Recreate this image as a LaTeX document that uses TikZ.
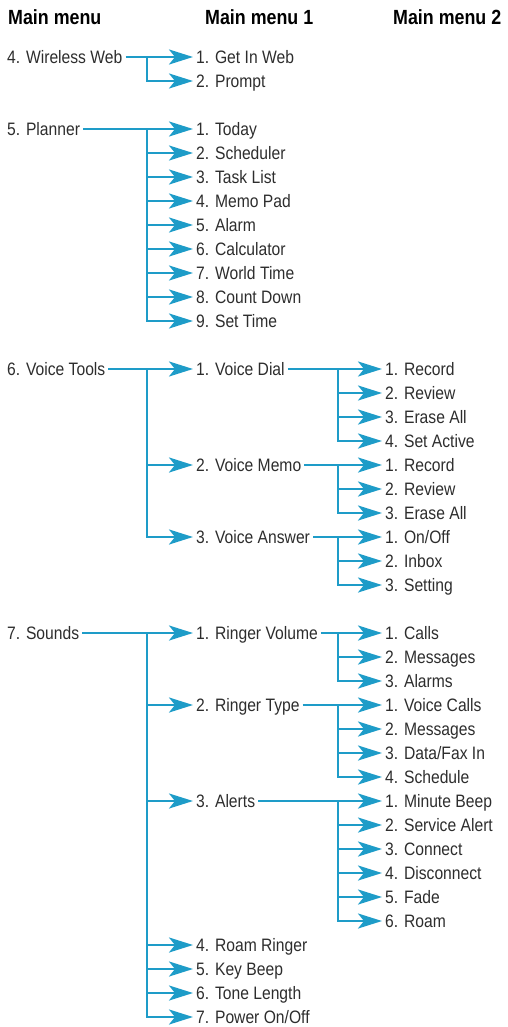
\documentclass[tikz,border=0pt]{standalone}
\usepackage{fontspec}
\usetikzlibrary{arrows.meta}
\newfontfamily\menufamily{Liberation Sans}[FakeStretch=0.87]
\newcommand{\itemfont}{\menufamily\fontsize{18}{20}\selectfont}
\newcommand{\headfont}{\menufamily\bfseries\fontsize{20.5}{22}\selectfont}
\definecolor{menublue}{RGB}{30,156,200}
\definecolor{menutext}{RGB}{45,45,45}
\tikzset{
  item/.style={anchor=west, inner sep=0pt, inner xsep=3pt, text height=13pt, text depth=0pt, text=menutext, font=\itemfont},
  head/.style={anchor=west, inner sep=0pt, text=black, font=\headfont},
  link/.style={draw=menublue, line width=2.6pt},
  arr/.style={link, -{Stealth[length=24pt,width=15pt,inset=6pt]}}
}
\begin{document}
\begin{tikzpicture}[x=1pt, y=-1pt]
  \useasboundingbox (0,0) rectangle (508,1027);
  % column heads
  \node[head] (h0) at (8,17) {Main menu};
  \node[head] (h1) at (205,17) {Main menu 1};
  \node[head] (h2) at (393,17) {Main menu 2};
  % branch columns
  \coordinate (bA) at (147,0);
  \coordinate (bB) at (338,0);

  % 4. Wireless Web
  \node[item] (web) at (4,57) {4. Wireless Web};
  \node[item] (getin) at (193,57) {1. Get In Web};
  \node[item] (prompt) at (193,81) {2. Prompt};
  \draw[arr] (web) -- (getin);
  \draw[arr] (getin.west -| bA) |- (prompt);

  % 5. Planner
  \node[item] (plan) at (4,129) {5. Planner};
  \node[item] (today) at (193,129) {1. Today};
  \node[item] (sched) at (193,153) {2. Scheduler};
  \node[item] (task) at (193,177) {3. Task List};
  \node[item] (memo) at (193,201) {4. Memo Pad};
  \node[item] (alarm) at (193,225) {5. Alarm};
  \node[item] (calc) at (193,249) {6. Calculator};
  \node[item] (world) at (193,273) {7. World Time};
  \node[item] (count) at (193,297) {8. Count Down};
  \node[item] (settime) at (193,321) {9. Set Time};
  \draw[arr] (plan) -- (today);
  \draw[arr] (today.west -| bA) |- (settime);
  \foreach \n in {sched,task,memo,alarm,calc,world,count}
    \draw[arr] (\n.west -| bA) -- (\n);

  % 6. Voice Tools
  \node[item] (vtools) at (4,369) {6. Voice Tools};
  \node[item] (vdial) at (193,369) {1. Voice Dial};
  \node[item] (vmemo) at (193,465) {2. Voice Memo};
  \node[item] (vans) at (193,537) {3. Voice Answer};
  \draw[arr] (vtools) -- (vdial);
  \draw[arr] (vdial.west -| bA) |- (vans);
  \draw[arr] (vmemo.west -| bA) -- (vmemo);

  \node[item] (vdrec) at (382,369) {1. Record};
  \node[item] (vdrev) at (382,393) {2. Review};
  \node[item] (vders) at (382,417) {3. Erase All};
  \node[item] (vdact) at (382,441) {4. Set Active};
  \draw[arr] (vdial) -- (vdrec);
  \draw[arr] (vdrec.west -| bB) |- (vdact);
  \foreach \n in {vdrev,vders}
    \draw[arr] (\n.west -| bB) -- (\n);

  \node[item] (vmrec) at (382,465) {1. Record};
  \node[item] (vmrev) at (382,489) {2. Review};
  \node[item] (vmers) at (382,513) {3. Erase All};
  \draw[arr] (vmemo) -- (vmrec);
  \draw[arr] (vmrec.west -| bB) |- (vmers);
  \draw[arr] (vmrev.west -| bB) -- (vmrev);

  \node[item] (onoff) at (382,537) {1. On/Off};
  \node[item] (inbox) at (382,561) {2. Inbox};
  \node[item] (setting) at (382,585) {3. Setting};
  \draw[arr] (vans) -- (onoff);
  \draw[arr] (onoff.west -| bB) |- (setting);
  \draw[arr] (inbox.west -| bB) -- (inbox);

  % 7. Sounds
  \node[item] (sounds) at (4,633) {7. Sounds};
  \node[item] (rvol) at (193,633) {1. Ringer Volume};
  \node[item] (rtype) at (193,705) {2. Ringer Type};
  \node[item] (alerts) at (193,801) {3. Alerts};
  \node[item] (roamr) at (193,945) {4. Roam Ringer};
  \node[item] (keyb) at (193,969) {5. Key Beep};
  \node[item] (tone) at (193,993) {6. Tone Length};
  \node[item] (power) at (193,1017) {7. Power On/Off};
  \draw[arr] (sounds) -- (rvol);
  \draw[arr] (rvol.west -| bA) |- (power);
  \foreach \n in {rtype,alerts,roamr,keyb,tone}
    \draw[arr] (\n.west -| bA) -- (\n);

  \node[item] (calls) at (382,633) {1. Calls};
  \node[item] (msgs) at (382,657) {2. Messages};
  \node[item] (alarms) at (382,681) {3. Alarms};
  \draw[arr] (rvol) -- (calls);
  \draw[arr] (calls.west -| bB) |- (alarms);
  \draw[arr] (msgs.west -| bB) -- (msgs);

  \node[item] (vcalls) at (382,705) {1. Voice Calls};
  \node[item] (tmsgs) at (382,729) {2. Messages};
  \node[item] (dfax) at (382,753) {3. Data/Fax In};
  \node[item] (schedule) at (382,777) {4. Schedule};
  \draw[arr] (rtype) -- (vcalls);
  \draw[arr] (vcalls.west -| bB) |- (schedule);
  \foreach \n in {tmsgs,dfax}
    \draw[arr] (\n.west -| bB) -- (\n);

  \node[item] (minute) at (382,801) {1. Minute Beep};
  \node[item] (service) at (382,825) {2. Service Alert};
  \node[item] (connect) at (382,849) {3. Connect};
  \node[item] (disconn) at (382,873) {4. Disconnect};
  \node[item] (fade) at (382,897) {5. Fade};
  \node[item] (roam) at (382,921) {6. Roam};
  \draw[arr] (alerts) -- (minute);
  \draw[arr] (minute.west -| bB) |- (roam);
  \foreach \n in {service,connect,disconn,fade}
    \draw[arr] (\n.west -| bB) -- (\n);
\end{tikzpicture}
\end{document}
